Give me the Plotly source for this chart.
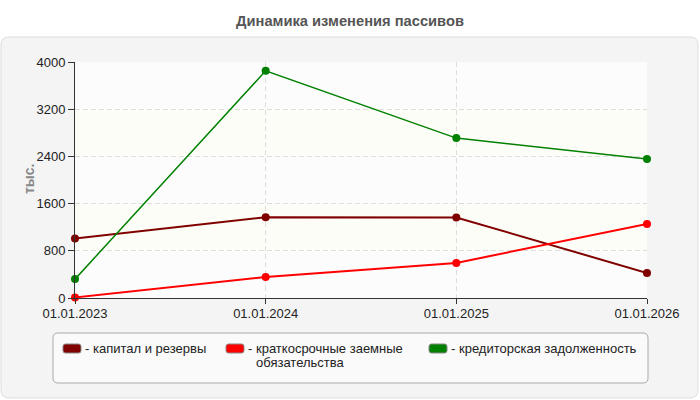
import plotly.graph_objects as go

dates = ["01.01.2023", "01.01.2024", "01.01.2025", "01.01.2026"]
capital = [1010, 1370, 1365, 425]
short_loans = [10, 355, 595, 1255]
payables = [320, 3850, 2710, 2355]
series_names = ["капитал и резервы", "краткосрочные заемные<br>обязательства", "кредиторская задолженность"]
series_colors = ["#800000", "#ff0000", "#008000"]
y_ticks = [0, 800, 1600, 2400, 3200, 4000]

W, H = 700, 400
L, R, T, B = 75, 647, 62, 298
FONT = "Liberation Sans, Arial"


def px(x):
    return (x - L) / (R - L)


def py(y):
    return (B - y) / (B - T)


def rrect(x0, y0, x1, y1, r):
    X0, X1 = px(x0), px(x1)
    Y0, Y1 = py(y0), py(y1)
    rx = r / (R - L)
    ry = r / (B - T)
    return (f"M {X0+rx},{Y0} L {X1-rx},{Y0} Q {X1},{Y0} {X1},{Y0-ry} "
            f"L {X1},{Y1+ry} Q {X1},{Y1} {X1-rx},{Y1} L {X0+rx},{Y1} "
            f"Q {X0},{Y1} {X0},{Y1+ry} L {X0},{Y0-ry} Q {X0},{Y0} {X0+rx},{Y0} Z")


fig = go.Figure()
for vals, color, w in [(capital, series_colors[0], 2), (short_loans, series_colors[1], 2), (payables, series_colors[2], 1.5)]:
    fig.add_trace(go.Scatter(x=dates, y=vals, mode="lines+markers",
                             line=dict(color=color, width=w),
                             marker=dict(color=color, size=8),
                             showlegend=False, cliponaxis=False))

shapes = []
shapes.append(dict(type="path", xref="paper", yref="paper", layer="below",
                   path=rrect(1, 37, 698, 398, 8),
                   fillcolor="#f4f4f4", line=dict(color="#dddddd", width=1)))
shapes.append(dict(type="rect", xref="paper", yref="paper", layer="below",
                   x0=0, x1=1, y0=0, y1=1, fillcolor="#fcfcfc", line=dict(width=0)))
for y0, y1 in [(800, 1600), (2400, 3200)]:
    shapes.append(dict(type="rect", xref="x domain", yref="y", layer="below",
                       x0=0, x1=1, y0=y0, y1=y1, fillcolor="#fdfdf7", line=dict(width=0)))
shapes.append(dict(type="path", xref="paper", yref="paper", layer="below",
                   path=rrect(53, 333, 648, 383, 5),
                   fillcolor="#fafafa", line=dict(color="#aaaaaa", width=1)))

annotations = []
leg_x = [63, 226, 429]
for i, (name, color) in enumerate(zip(series_names, series_colors)):
    x0 = leg_x[i]
    shapes.append(dict(type="path", xref="paper", yref="paper",
                       path=rrect(x0, 344, x0 + 18, 353, 2.5),
                       fillcolor=color, line=dict(color="#888888", width=1)))
    annotations.append(dict(xref="paper", yref="paper", x=px(x0 + 20), y=py(348),
                            xanchor="left", yanchor="middle", text="-", showarrow=False,
                            font=dict(family=FONT, size=13, color="#222222")))
    for k, line in enumerate(name.split("<br>")):
        annotations.append(dict(xref="paper", yref="paper", x=px(x0 + 28), y=py(348 + 14 * k),
                                xanchor="left", yanchor="middle", text=line, showarrow=False,
                                font=dict(family=FONT, size=13, color="#222222")))

annotations.append(dict(xref="paper", yref="paper", x=px(19), y=py(179),
                        text="<b>тыс.</b>", textangle=-90, showarrow=False,
                        font=dict(family=FONT, size=14, color="#888888")))

fig.update_layout(
    width=W, height=H,
    margin=dict(l=L, r=W - R, t=T, b=H - B),
    paper_bgcolor="white", plot_bgcolor="rgba(0,0,0,0)",
    title=dict(text="<b>Динамика изменения пассивов</b>", x=0.5, xref="container", y=1 - 21 / H,
               yanchor="middle", xanchor="center",
               font=dict(family=FONT, size=14.7, color="#555555")),
    font=dict(family=FONT, size=13, color="#222222"),
    shapes=shapes, annotations=annotations,
    xaxis=dict(type="category", range=[0, 3], showgrid=True, gridcolor="#dedede",
               griddash="5px,3px", gridwidth=1, showline=True, linecolor="#333333",
               ticks="outside", ticklen=5, tickcolor="#333333", zeroline=False,
               ticklabelstandoff=-2,
               tickfont=dict(size=13, color="#222222")),
    yaxis=dict(range=[0, 4000], tickvals=y_ticks, showgrid=True, gridcolor="#dedede",
               griddash="5px,3px", showline=True, linecolor="#333333",
               ticks="outside", ticklen=6, tickcolor="#333333", zeroline=False,
               tickfont=dict(size=13, color="#222222")),
)

fig.write_html("out.html")
